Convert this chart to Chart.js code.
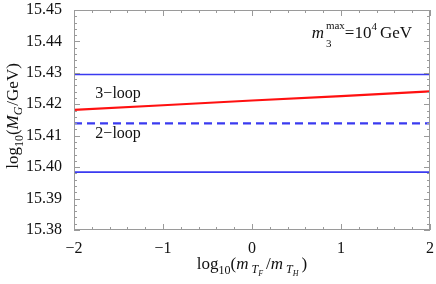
<!DOCTYPE html>
<html><head><meta charset="utf-8">
<script src="https://cdn.jsdelivr.net/npm/chart.js@4/dist/chart.umd.min.js"></script>
<style>html,body{margin:0;padding:0;background:#fff}#wrap{width:436px;height:284px}</style>
</head><body><div id="wrap"><canvas id="c" width="436" height="284"></canvas></div>
<script>
// axis ranges and tick labels
const xTicks = [-2, -1, 0, 1, 2];
const yTicks = [15.38, 15.39, 15.40, 15.41, 15.42, 15.43, 15.44, 15.45];
// 3-loop curve (red)
const loop3X = [-2, -1, 0, 1, 2];
const loop3Y = [15.4182, 15.4197, 15.4212, 15.4226, 15.4241];
// 2-loop (dashed) and the band edges (flat blue lines)
const flatX = [-2, 2];
const loop2Y = [15.4139, 15.4139];
const upperY = [15.4295, 15.4295];
const lowerY = [15.3984, 15.3984];

const SERIF = '"Liberation Serif", "Times New Roman", serif';
const BLUE = '#3a3af0';
Chart.defaults.font.family = SERIF;

function pts(xs, ys) { return xs.map((x, i) => ({x: x, y: ys[i]})); }

// draw a run of text pieces: [text, italic, sizePx, dy, gapAfter]
function drawRun(ctx, parts, x, y, align) {
  let w = 0;
  parts.forEach(p => { ctx.font = (p[1] ? 'italic ' : '') + p[2] + 'px ' + SERIF; w += ctx.measureText(p[0]).width + (p[4] || 0); });
  let cx = align === 'center' ? x - w / 2 : x;
  parts.forEach(p => {
    ctx.font = (p[1] ? 'italic ' : '') + p[2] + 'px ' + SERIF;
    ctx.fillText(p[0], cx, y + p[3]);
    cx += ctx.measureText(p[0]).width + (p[4] || 0);
  });
}

const framePlugin = {
  id: 'frame',
  afterDatasetsDraw(chart) {
    const {ctx, chartArea: a, scales} = chart;
    const xs = scales.x, ys = scales.y;
    ctx.save();
    ctx.strokeStyle = '#9a9a9a';
    ctx.lineWidth = 1;
    ctx.strokeRect(a.left + 0.5, a.top + 0.5, a.right - a.left - 1, a.bottom - a.top - 1);
    ctx.beginPath();
    for (let i = 0; i <= 20; i++) {
      const v = -2 + i * 0.2;
      const px = Math.round(xs.getPixelForValue(v)) + 0.5;
      const len = i % 5 === 0 ? 6 : 3;
      ctx.moveTo(px, a.bottom); ctx.lineTo(px, a.bottom - len);
      ctx.moveTo(px, a.top); ctx.lineTo(px, a.top + len);
    }
    for (let i = 0; i <= 35; i++) {
      const v = 15.38 + i * 0.002;
      const py = Math.round(ys.getPixelForValue(v)) + 0.5;
      const len = i % 5 === 0 ? 6 : 3;
      ctx.moveTo(a.left, py); ctx.lineTo(a.left + len, py);
      ctx.moveTo(a.right, py); ctx.lineTo(a.right - len, py);
    }
    ctx.stroke();

    ctx.fillStyle = '#111';
    ctx.textBaseline = 'alphabetic';
    // curve labels
    drawRun(ctx, [['3\u2212loop', false, 16, 0]], xs.getPixelForValue(-1.76), ys.getPixelForValue(15.422), 'left');
    drawRun(ctx, [['2\u2212loop', false, 16, 0]], xs.getPixelForValue(-1.76), ys.getPixelForValue(15.4093), 'left');
    // annotation
    const ax = xs.getPixelForValue(0.67), ay = ys.getPixelForValue(15.4411);
    ctx.font = 'italic 17px ' + SERIF;
    ctx.fillText('m', ax, ay);
    const mw = ctx.measureText('m').width;
    ctx.font = '11px ' + SERIF;
    ctx.fillText('max', ax + mw + 2, ay - 9);
    ctx.fillText('3', ax + mw + 2, ay + 9);
    const maxw = ctx.measureText('max').width;
    drawRun(ctx, [['=10', false, 17, 0], ['4', false, 11, -8, 3], ['GeV', false, 17, 0]], ax + mw + 2 + maxw, ay, 'left');

    // x-axis title
    const xc = (a.left + a.right) / 2;
    drawRun(ctx, [['log', false, 17, 0], ['10', false, 12, 5], ['(', false, 17, 0], ['m', true, 17, 0, 3],
      ['T', true, 12, 4], ['F', true, 8, 7, 3], ['/', false, 17, 0], ['m', true, 17, 0, 3],
      ['T', true, 12, 4], ['H', true, 8, 7, 3], [')', false, 17, 0]], xc, 269, 'center');
    // y-axis title
    ctx.translate(18, 116);
    ctx.rotate(-Math.PI / 2);
    drawRun(ctx, [['log', false, 17, 0], ['10', false, 12, 5], ['(', false, 17, 0], ['M', true, 17, 0],
      ['G', true, 12, 4, 1], ['/GeV)', false, 17, 0]], 0, 0, 'center');
    ctx.restore();
  }
};

new Chart(document.getElementById('c'), {
  type: 'scatter',
  data: {
    datasets: [
      {data: pts(flatX, upperY), showLine: true, borderColor: BLUE, borderWidth: 1.6, pointRadius: 0},
      {data: pts(flatX, lowerY), showLine: true, borderColor: BLUE, borderWidth: 1.6, pointRadius: 0},
      {data: pts(flatX, loop2Y), showLine: true, borderColor: BLUE, borderWidth: 2.2, borderDash: [8, 5], pointRadius: 0},
      {data: pts(loop3X, loop3Y), showLine: true, borderColor: '#ff1010', borderWidth: 2.2, pointRadius: 0}
    ]
  },
  options: {
    responsive: false,
    animation: false,
    layout: {padding: {left: 0, top: 10, right: 6, bottom: 0}},
    plugins: {legend: {display: false}, tooltip: {enabled: false}},
    scales: {
      x: {
        type: 'linear', min: -2, max: 2,
        afterBuildTicks: s => { s.ticks = xTicks.map(v => ({value: v})); },
        afterFit: s => { s.height = 54; s.paddingLeft = 0; s.paddingRight = 0; },
        grid: {display: false}, border: {display: false},
        ticks: {color: '#111', padding: 1, font: {family: SERIF, size: 16},
          callback: v => (v < 0 ? '\u2212' + Math.abs(v) : String(v))}
      },
      y: {
        type: 'linear', min: 15.38, max: 15.45,
        afterBuildTicks: s => { s.ticks = yTicks.map(v => ({value: v})); },
        afterFit: s => { s.width = 74; s.paddingTop = 0; s.paddingBottom = 0; },
        grid: {display: false}, border: {display: false},
        ticks: {color: '#111', padding: 4, font: {family: SERIF, size: 16},
          callback: v => v.toFixed(2)}
      }
    }
  },
  plugins: [framePlugin]
});
</script>
</body></html>
